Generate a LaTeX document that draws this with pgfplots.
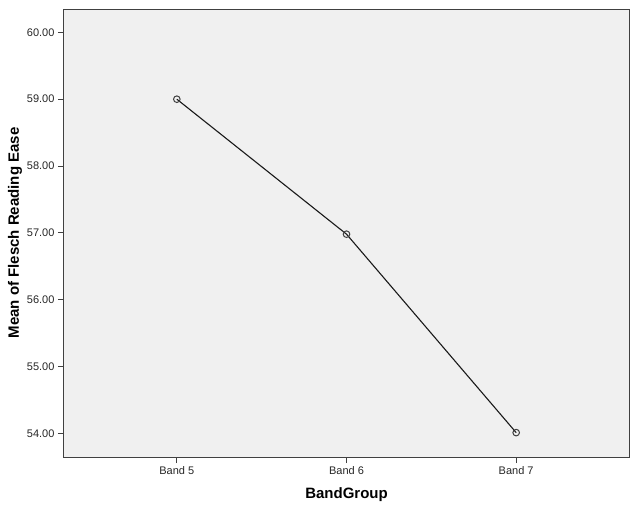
\documentclass[border=0pt]{standalone}
\usepackage{fontspec}
\setmainfont{Liberation Sans}
\usepackage{pgfplots}
\pgfplotsset{compat=1.18}
\definecolor{bgpanel}{HTML}{F0F0F0}
\definecolor{frame}{HTML}{404040}
\begin{document}
\begin{tikzpicture}
\path (-64pt,-55pt) rectangle (573pt,457pt);
\begin{axis}[
	at={(0pt,0pt)}, anchor=south west,
	scale only axis,
	width=565pt, height=448pt,
	xmin=-0.665, xmax=2.665,
	ymin=53.645, ymax=60.35,
	xtick={0,1,2},
	xticklabels={Band 5,Band 6,Band 7},
	ytick={54,55,...,60},
	yticklabel={\pgfmathprintnumber[fixed,fixed zerofill,precision=2]{\tick}},
	/pgf/number format/assume math mode=true,
	tick pos=left,
	tick align=outside,
	major tick length=6pt,
	axis background/.style={fill=bgpanel},
	axis line style={frame, line width=1pt},
	tick style={frame, line width=1pt},
	ticklabel style={font=\fontsize{11}{13}\selectfont, text=black!85},
	xlabel={BandGroup},
	ylabel={Mean of Flesch Reading Ease},
	label style={font=\bfseries\fontsize{15}{18}\selectfont},
	xlabel style={at={(axis description cs:0.5,-0.0848)}, anchor=center},
	ylabel style={at={(axis description cs:-0.0867,0.5)}, anchor=center},
]
\addplot[black!90, line width=1.1pt, mark=o, mark size=3.3pt,
	mark options={draw=black!75, fill=bgpanel, line width=1pt}]
	coordinates {(0,59.00) (1,56.98) (2,54.01)};
\end{axis}
\end{tikzpicture}
\end{document}
